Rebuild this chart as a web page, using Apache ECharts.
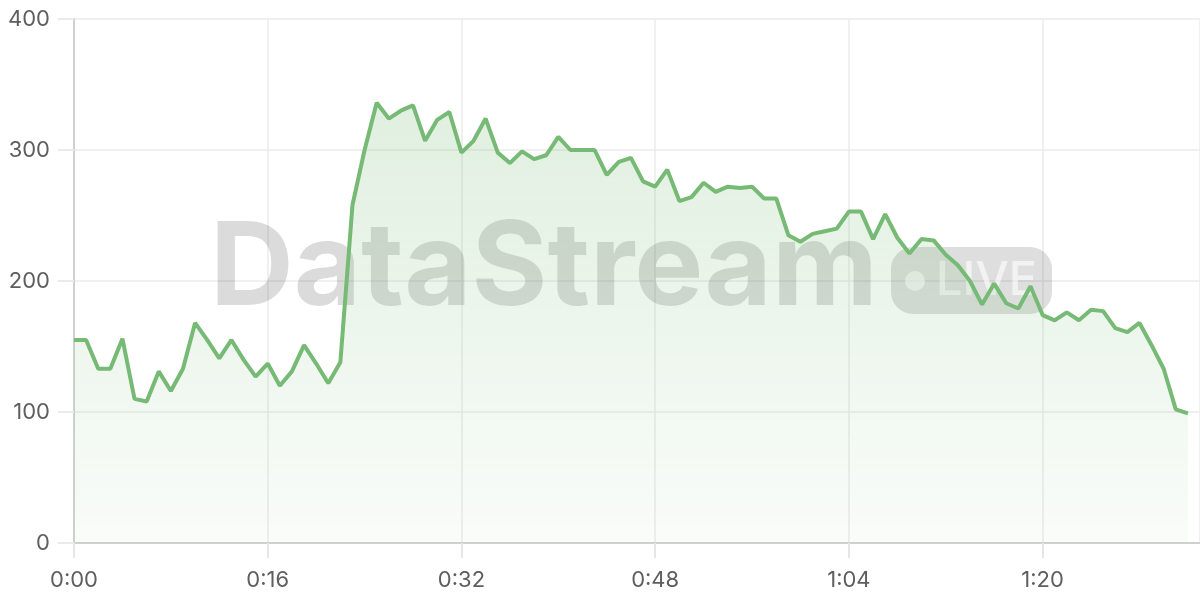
<!DOCTYPE html>
<html>
<head>
<meta charset="utf-8">
<script src="https://cdn.jsdelivr.net/npm/echarts@6/dist/echarts.min.js"></script>
<style>
  html, body { margin: 0; padding: 0; background: #fff; }
  #main { width: 1200px; height: 600px; }
</style>
</head>
<body>
<div id="main"></div>
<script>
// values sampled once per second, 0:00 .. 1:32
var values = [
  155, 155, 133, 133, 156, 110, 108, 131, 116, 133,
  168, 155, 141, 155, 140, 127, 137, 120, 131, 151,
  137, 122, 138, 258, 300, 336, 324, 330, 334, 307,
  323, 329, 298, 307, 324, 298, 290, 299, 293, 296,
  310, 300, 300, 300, 281, 291, 294, 276, 272, 285,
  261, 264, 275, 268, 272, 271, 272, 263, 263, 235,
  230, 236, 238, 240, 253, 253, 232, 251, 233, 221,
  232, 231, 220, 212, 200, 182, 198, 183, 179, 196,
  174, 170, 176, 170, 178, 177, 164, 161, 168, 151,
  133, 102, 99
];
var yTicks = [0, 100, 200, 300, 400];
var watermarkText = 'DataStream';
var badgeText = 'LIVE';

function fmtTime(s) {
  var m = Math.floor(s / 60);
  var sec = s % 60;
  return m + ':' + (sec < 10 ? '0' : '') + sec;
}

var seriesData = values.map(function (v, i) { return [i, v]; });

var myChart = echarts.init(document.getElementById('main'));
var option = {
  animation: false,
  grid: { left: 74, right: 0, top: 19, bottom: 57 },
  graphic: [
    {
      type: 'text', z: 1, left: 210, top: 212,
      style: {
        text: watermarkText,
        font: 'bold 116px Inter, "Noto Sans", sans-serif',
        fill: 'rgba(0,0,0,0.14)'
      }
    },
    {
      type: 'rect', z: 1,
      shape: { x: 891, y: 247, width: 161, height: 67, r: 22 },
      style: { fill: 'rgba(0,0,0,0.13)' }
    },
    {
      type: 'circle', z: 1,
      shape: { cx: 915, cy: 281, r: 10 },
      style: { fill: 'rgba(255,255,255,0.6)' }
    },
    {
      type: 'text', z: 1, left: 936, top: 257,
      style: {
        text: badgeText,
        font: '500 47px Inter, "Noto Sans", sans-serif',
        fill: 'rgba(255,255,255,0.6)'
      }
    }
  ],
  xAxis: {
    type: 'value',
    min: 0,
    max: 93,
    interval: 16,
    axisLine: { show: true, lineStyle: { color: '#d0d0d0', width: 2 } },
    axisTick: { show: true, length: 15, lineStyle: { color: '#e6e6e6', width: 2 } },
    splitLine: { show: true, lineStyle: { color: '#ebebeb', width: 1.5 } },
    axisLabel: {
      margin: 26,
      color: '#5e5e5e',
      fontSize: 22,
      fontFamily: 'Inter',
      showMaxLabel: false,
      formatter: function (v) { return fmtTime(v); }
    }
  },
  yAxis: {
    type: 'value',
    min: yTicks[0],
    max: yTicks[yTicks.length - 1],
    interval: 100,
    axisLine: { show: true, lineStyle: { color: '#d0d0d0', width: 2 } },
    axisTick: { show: true, length: 16, lineStyle: { color: '#ebebeb', width: 2 } },
    splitLine: { show: true, lineStyle: { color: '#ebebeb', width: 1.5 } },
    axisLabel: { margin: 24, color: '#5e5e5e', fontSize: 22, fontFamily: 'Inter' }
  },
  series: [{
    type: 'line',
    z: 3,
    data: seriesData,
    showSymbol: false,
    smooth: false,
    lineStyle: { color: '#76ba75', width: 4 },
    areaStyle: {
      color: new echarts.graphic.LinearGradient(0, 0, 0, 1, [
        { offset: 0, color: 'rgba(118,186,117,0.32)' },
        { offset: 1, color: 'rgba(118,186,117,0.06)' }
      ])
    }
  }]
};
myChart.setOption(option);
</script>
</body>
</html>
